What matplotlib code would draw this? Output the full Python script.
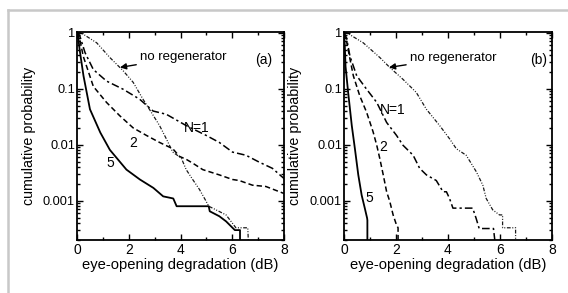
import numpy as np
import matplotlib
matplotlib.use("Agg")
import matplotlib.pyplot as plt
from matplotlib.ticker import MultipleLocator, LogLocator, FixedLocator, FixedFormatter
from matplotlib.lines import Line2D

plt.rcParams['font.family'] = ['Liberation Sans', 'DejaVu Sans']
plt.rcParams['font.size'] = 9.5

# panel (a)
a_none_x = [0, 0.15, 0.76, 1.27, 1.78, 2.17, 2.55, 2.87, 3.19, 3.45, 3.7, 4.03, 4.22, 4.47, 4.73, 4.99, 5.09, 5.24, 5.76, 6.14, 6.6, 6.62]
a_none_p = [1, 1, 0.66, 0.36, 0.21, 0.13, 0.065, 0.038, 0.022, 0.0128, 0.0074, 0.0058, 0.0036, 0.0024, 0.0016, 0.00098, 8e-4, 7.4e-4, 5.6e-4, 3.3e-4, 3.3e-4, 2e-4]
a_n1_x = [0, 0.1, 0.31, 0.63, 1.14, 1.78, 2.42, 2.94, 3.45, 4.22, 4.99, 5.5, 6.01, 6.53, 7.04, 7.55, 8.0]
a_n1_p = [1, 0.9, 0.44, 0.22, 0.137, 0.098, 0.065, 0.040, 0.035, 0.022, 0.0147, 0.011, 0.0074, 0.0065, 0.0049, 0.0038, 0.0025]
a_n2_x = [0, 0.1, 0.24, 0.63, 1.14, 1.65, 2.17, 2.68, 3.19, 3.7, 3.96, 4.22, 4.47, 4.86, 5.5, 6.01, 6.27, 6.78, 7.3, 8.0]
a_n2_p = [1, 0.8, 0.38, 0.11, 0.057, 0.033, 0.020, 0.0147, 0.011, 0.0085, 0.0062, 0.0055, 0.0047, 0.0036, 0.0029, 0.0024, 0.0023, 0.0019, 0.0018, 0.00135]
a_n5_x = [0, 0.05, 0.1, 0.25, 0.5, 0.9, 1.27, 1.91, 2.43, 2.95, 3.33, 3.72, 3.85, 5.09, 5.13, 5.5, 5.76, 6.1, 6.3, 6.3]
a_n5_p = [1, 0.8, 0.5, 0.17, 0.043, 0.0165, 0.0081, 0.0036, 0.0024, 0.0017, 0.0012, 0.0011, 8e-4, 8e-4, 6.5e-4, 5.3e-4, 4.3e-4, 3e-4, 3e-4, 2e-4]

# panel (b)
b_none_x = [0, 0.1, 0.74, 1.38, 1.76, 2.27, 2.78, 3.17, 3.68, 4.06, 4.32, 4.7, 5.09, 5.34, 5.47, 5.72, 5.98, 6.1, 6.1, 6.6, 6.6]
b_none_p = [1, 1, 0.66, 0.36, 0.24, 0.147, 0.086, 0.043, 0.022, 0.0128, 0.0085, 0.0065, 0.0033, 0.0019, 0.0011, 6.9e-4, 5.6e-4, 5.6e-4, 3.3e-4, 3.3e-4, 2e-4]
b_n1_x = [0, 0.1, 0.23, 0.49, 0.87, 1.26, 1.64, 2.02, 2.27, 2.66, 2.91, 3.17, 3.55, 3.81, 3.94, 4.06, 4.19, 4.95, 5.08, 5.2, 5.75, 5.8]
b_n1_p = [1, 0.8, 0.38, 0.17, 0.098, 0.057, 0.025, 0.0147, 0.0098, 0.0065, 0.0038, 0.0029, 0.0023, 0.00145, 0.00145, 0.0011, 7.4e-4, 7.4e-4, 4.9e-4, 3.2e-4, 3.2e-4, 2e-4]
b_n2_x = [0, 0.1, 0.23, 0.36, 0.61, 0.87, 1.12, 1.26, 1.38, 1.51, 1.64, 1.76, 1.89, 2.02, 2.08, 2.08]
b_n2_p = [1, 0.7, 0.34, 0.17, 0.074, 0.038, 0.017, 0.0098, 0.0056, 0.0029, 0.00145, 9.8e-4, 5.6e-4, 3.7e-4, 3.3e-4, 2e-4]
b_n5_x = [0, 0.03, 0.06, 0.16, 0.3, 0.42, 0.55, 0.68, 0.8, 0.89, 0.9, 0.9]
b_n5_p = [1, 0.6, 0.25, 0.086, 0.022, 0.0085, 0.0029, 0.00126, 7.4e-4, 4.9e-4, 4.5e-4, 2e-4]

ytick_vals = [0.001, 0.01, 0.1, 1]
ytick_labels = ['0.001', '0.01', '0.1', '1']


def draw(ax, none, n1, n2, n5, labels):
    ax.plot(none[0], none[1], color='#1a1a1a', lw=0.9, dashes=(3, 1.3, 0.8, 1.3, 0.8, 1.3))
    ax.plot(n1[0], n1[1], color='black', lw=1.1, dashes=(5, 2, 1.5, 2))
    ax.plot(n2[0], n2[1], color='black', lw=1.1, dashes=(3.5, 2))
    ax.plot(n5[0], n5[1], color='black', lw=1.3)
    ax.set_yscale('log')
    ax.set_xlim(0, 8)
    ax.set_ylim(2e-4, 1.03)
    ax.xaxis.set_major_locator(MultipleLocator(2))
    ax.xaxis.set_minor_locator(MultipleLocator(1))
    ax.yaxis.set_major_locator(FixedLocator(ytick_vals))
    ax.yaxis.set_major_formatter(FixedFormatter(ytick_labels))
    ax.yaxis.set_minor_locator(LogLocator(base=10, subs=np.arange(2, 10)))
    ax.yaxis.set_minor_formatter(FixedFormatter([]))
    ax.tick_params(which='both', direction='in', top=True, right=True, width=1)
    ax.tick_params(which='major', length=4, labelsize=10, pad=2)
    ax.tick_params(axis='y', which='major', labelsize=9.2, pad=1.5)
    ax.tick_params(which='minor', length=2.5)
    for s in ax.spines.values():
        s.set_linewidth(1.3)
    ax.set_xlabel('eye-opening degradation (dB)', fontsize=10.6, labelpad=1)
    ax.set_ylabel('cumulative probability', fontsize=10.3)
    ax.yaxis.set_label_coords(-0.2, 0.5)
    (tx, ty), (ax_, ay_), panel, (n1x, n1y), (n2x, n2y), (n5x, n5y) = labels
    ax.annotate('no regenerator', xy=(ax_, ay_), xytext=(tx, ty), va='center', ha='left',
                arrowprops=dict(arrowstyle='-|>', color='black', lw=1, mutation_scale=9,
                                shrinkA=1, shrinkB=0))
    ax.text(panel[0], panel[1], panel[2], ha='center', va='center', fontsize=10)
    ax.text(n1x, n1y, 'N=1', ha='center', va='center', fontsize=10)
    ax.text(n2x, n2y, '2', ha='center', va='center', fontsize=10)
    ax.text(n5x, n5y, '5', ha='center', va='center', fontsize=10)


fig = plt.figure(figsize=(5.68, 2.93), dpi=100)
ax1 = fig.add_axes([0.1356, 0.181, 0.3644, 0.7099])
ax2 = fig.add_axes([0.6056, 0.181, 0.3662, 0.7099])

draw(ax1, (a_none_x, a_none_p), (a_n1_x, a_n1_p), (a_n2_x, a_n2_p), (a_n5_x, a_n5_p),
     [(2.45, 0.37), (1.66, 0.24), (7.2, 0.33, '(a)'), (4.63, 0.020), (2.16, 0.0108), (1.27, 0.0048)])
draw(ax2, (b_none_x, b_none_p), (b_n1_x, b_n1_p), (b_n2_x, b_n2_p), (b_n5_x, b_n5_p),
     [(2.55, 0.36), (1.73, 0.24), (7.5, 0.33, '(b)'), (1.88, 0.042), (1.49, 0.0092), (0.98, 0.0011)])

# light grey frame on top and left
fig.add_artist(Line2D([8 / 568, 1], [1 - 10 / 293, 1 - 10 / 293], color='#c8c8c8', lw=1.8))
fig.add_artist(Line2D([8 / 568, 8 / 568], [0, 1 - 10 / 293], color='#c8c8c8', lw=1.8))

fig.savefig('out.png', dpi=100)
